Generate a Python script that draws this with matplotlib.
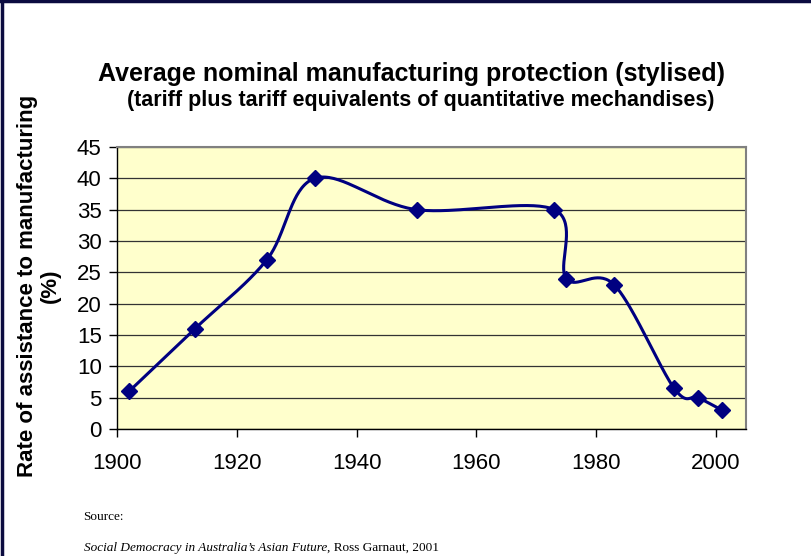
import numpy as np
import matplotlib
matplotlib.use("Agg")
import matplotlib.pyplot as plt
from matplotlib.lines import Line2D

# data
years = [1902, 1913, 1925, 1933, 1950, 1973, 1975, 1983, 1993, 1997, 2001]
rate = [6, 16, 27, 40, 35, 35, 24, 23, 6.5, 5, 3]

title = "Average nominal manufacturing protection (stylised)"
subtitle = "(tariff plus tariff equivalents of quantitative mechandises)"
ylabel = "Rate of assistance to manufacturing\n(%)"
x_ticks = [1900, 1920, 1940, 1960, 1980, 2000]
y_ticks = [0, 5, 10, 15, 20, 25, 30, 35, 40, 45]

navy = "#000080"
plt.rcParams["font.family"] = ["Liberation Sans", "DejaVu Sans"]

fig = plt.figure(figsize=(8.11, 5.56), dpi=100)
ax = fig.add_axes([0.1443, 0.2284, 0.7756, 0.5072])
ax.set_facecolor("#FFFFCC")

ax.set_xlim(1900, 2005)
ax.set_ylim(0, 45)
ax.set_xticks(x_ticks)
ax.set_yticks(y_ticks)
ax.tick_params(labelsize=16, length=6, width=1, direction="out")
ax.tick_params(axis="x", pad=11)
ax.tick_params(axis="y", pad=5)
ax.yaxis.grid(True, color="#333333", linewidth=0.9)
ax.set_axisbelow(True)

for side in ["left", "bottom"]:
    ax.spines[side].set_color("black")
    ax.spines[side].set_linewidth(1)
for side in ["right", "top"]:
    ax.spines[side].set_color("#808080")
    ax.spines[side].set_linewidth(1.5)

# Excel-style smoothed line (Catmull-Rom bezier in display space)
fig.canvas.draw()
pts = ax.transData.transform(np.column_stack([years, rate]))
ext = np.vstack([pts[0], pts, pts[-1]])
t = np.linspace(0, 1, 40)[:, None]
curve = []
for i in range(len(pts) - 1):
    p0, p3 = ext[i + 1], ext[i + 2]
    c1 = p0 + (ext[i + 2] - ext[i]) / 6.0
    c2 = p3 - (ext[i + 3] - ext[i + 1]) / 6.0
    seg = ((1 - t) ** 3) * p0 + 3 * ((1 - t) ** 2) * t * c1 + 3 * (1 - t) * t ** 2 * c2 + t ** 3 * p3
    curve.append(seg)
curve = ax.transData.inverted().transform(np.vstack(curve))

ax.plot(curve[:, 0], curve[:, 1], color=navy, linewidth=2.2, zorder=3)
ax.plot(years, rate, linestyle="none", marker="D", markersize=8,
        color=navy, markeredgecolor=navy, zorder=4)

fig.text(0.5074, 0.855, title, ha="center", va="baseline",
         fontsize=18, fontweight="bold")
fig.text(0.5185, 0.8085, subtitle, ha="center", va="baseline",
         fontsize=15.5, fontweight="bold")
fig.text(0.048, 0.486, ylabel, ha="center", va="center", rotation=90,
         fontsize=16, fontweight="bold", linespacing=1.15)

fig.text(0.103, 0.064, "Source:", family="Liberation Serif", fontsize=9.5,
         va="baseline")
src = fig.text(0.103, 0.009, "Social Democracy in Australia\u2019s Asian Future",
               family="Liberation Serif", style="italic", fontsize=9.5,
               va="baseline")
fig.canvas.draw()
bb = src.get_window_extent().transformed(fig.transFigure.inverted())
fig.text(bb.x1, 0.009, ", Ross Garnaut, 2001", family="Liberation Serif",
         fontsize=9.5, va="baseline")

# dark frame on top and left edge
fig.add_artist(Line2D([0.002, 0.002], [0, 1], color="#0b0b40", linewidth=2.5,
                      transform=fig.transFigure))
fig.add_artist(Line2D([0, 1], [0.998, 0.998], color="#0b0b40", linewidth=2.5,
                      transform=fig.transFigure))

fig.savefig("out.png", dpi=100)
